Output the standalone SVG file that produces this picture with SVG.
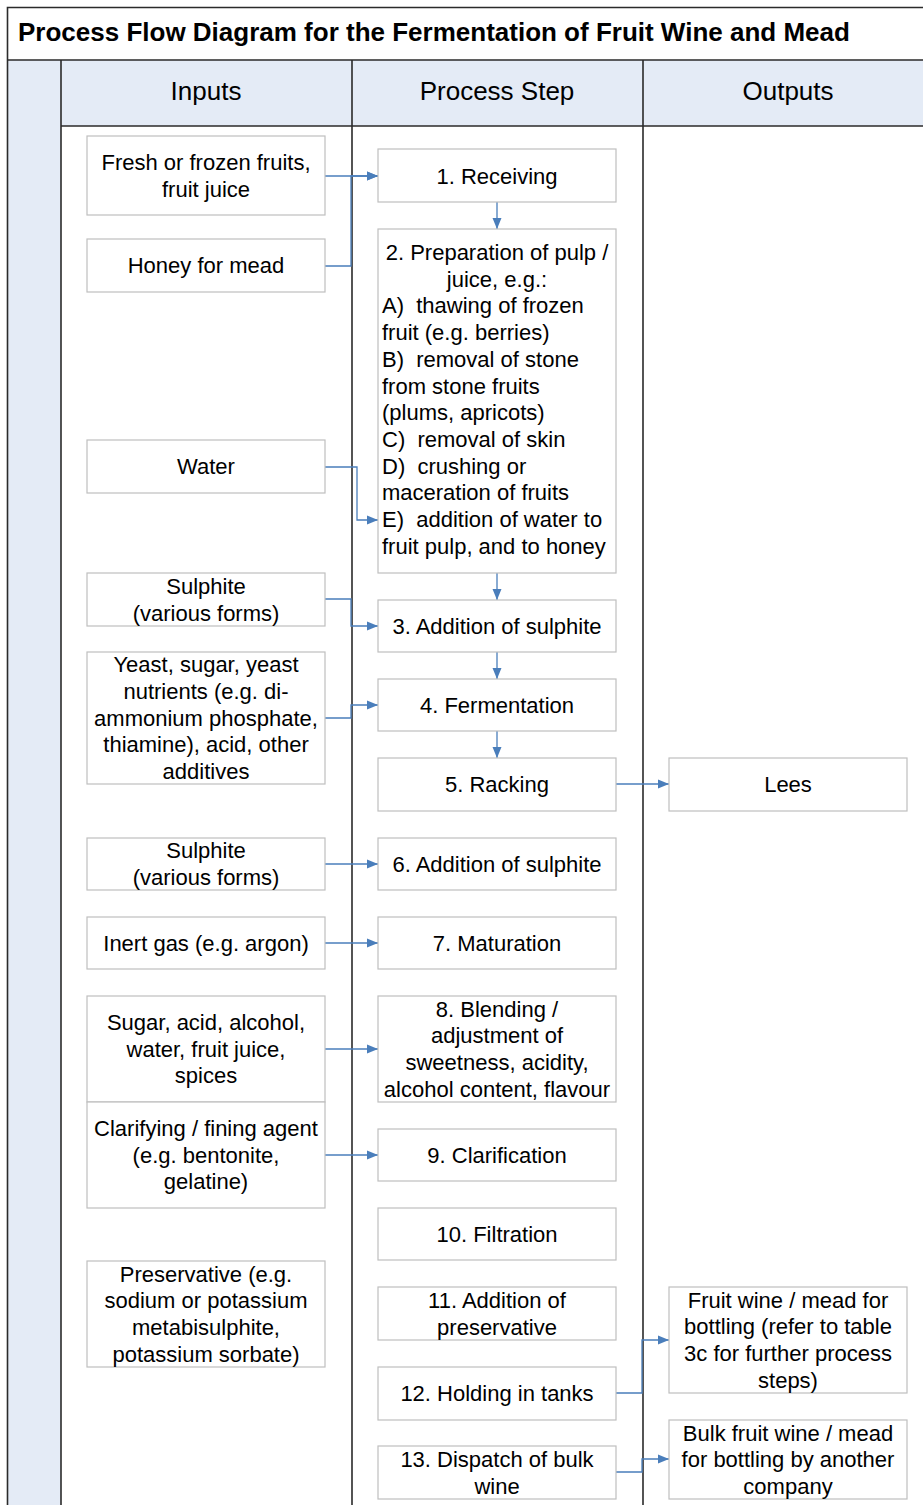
<svg xmlns="http://www.w3.org/2000/svg" width="923" height="1505" viewBox="0 0 923 1505">
<style>
.frame{fill:none;stroke:#2b2b2b;stroke-width:1.6}
.band{fill:#e4ebf6}
.box{fill:#ffffff;stroke:#bfbfbf;stroke-width:1.2}
.t{font-family:"Liberation Sans",Arial,sans-serif;font-size:22px;fill:#000;text-anchor:middle;white-space:pre}
.tl{text-anchor:start}
.h{font-family:"Liberation Sans",Arial,sans-serif;font-size:26px;fill:#000;text-anchor:middle}
.title{font-family:"Liberation Sans",Arial,sans-serif;font-size:26px;font-weight:bold;fill:#000}
.c{fill:none;stroke:#4a7ebb;stroke-width:1.3}
</style>
<defs>
<marker id="arr" markerUnits="userSpaceOnUse" markerWidth="12" markerHeight="10" refX="11" refY="5" orient="auto">
<path d="M0,0.5 L11,5 L0,9.5 Z" fill="#4a7ebb"/>
</marker>
</defs>
<rect x="0" y="0" width="923" height="1505" fill="#ffffff"/>
<g id="frame">
<rect class="band" x="61" y="60" width="862" height="66"/>
<rect class="band" x="7.5" y="60" width="53.5" height="1445"/>
<path class="frame" d="M7.5,1505 V7.5 H923 M7.5,60 H923 M61,126 H923 M61,60 V1505 M352,60 V1505 M643,60 V1505"/>
<text class="title" x="18" y="41">Process Flow Diagram for the Fermentation of Fruit Wine and Mead</text>
<text class="h" x="206" y="100">Inputs</text>
<text class="h" x="497" y="100">Process Step</text>
<text class="h" x="788" y="100">Outputs</text>
</g>
<g id="connectors">
<path class="c" d="M325,176 H378" marker-end="url(#arr)"/>
<path class="c" d="M325,266 H351 V176 H378" marker-end="url(#arr)"/>
<path class="c" d="M497,202 V229" marker-end="url(#arr)"/>
<path class="c" d="M325,467 H357 V520 H378" marker-end="url(#arr)"/>
<path class="c" d="M497,573 V600" marker-end="url(#arr)"/>
<path class="c" d="M325,599 H351 V626 H378" marker-end="url(#arr)"/>
<path class="c" d="M497,652 V679" marker-end="url(#arr)"/>
<path class="c" d="M325,718 H351 V705 H378" marker-end="url(#arr)"/>
<path class="c" d="M497,731 V758" marker-end="url(#arr)"/>
<path class="c" d="M616,784 H669" marker-end="url(#arr)"/>
<path class="c" d="M325,864 H378" marker-end="url(#arr)"/>
<path class="c" d="M325,943 H378" marker-end="url(#arr)"/>
<path class="c" d="M325,1049 H378" marker-end="url(#arr)"/>
<path class="c" d="M325,1155 H378" marker-end="url(#arr)"/>
<path class="c" d="M616,1393 H642 V1340 H669" marker-end="url(#arr)"/>
<path class="c" d="M616,1472 H642 V1459 H669" marker-end="url(#arr)"/>
</g>
<g id="in-fresh"><rect class="box" x="87" y="136" width="238" height="79"/><text class="t" x="206" y="170">Fresh or frozen fruits,</text><text class="t" x="206" y="196.5">fruit juice</text></g>
<g id="in-honey"><rect class="box" x="87" y="239" width="238" height="53"/><text class="t" x="206" y="273">Honey for mead</text></g>
<g id="in-water"><rect class="box" x="87" y="440" width="238" height="53"/><text class="t" x="206" y="474">Water</text></g>
<g id="in-sulphite1"><rect class="box" x="87" y="573" width="238" height="53"/><text class="t" x="206" y="593.5">Sulphite</text><text class="t" x="206" y="620.5">(various forms)</text></g>
<g id="in-yeast"><rect class="box" x="87" y="652" width="238" height="132"/><text class="t" x="206" y="672.3">Yeast, sugar, yeast</text><text class="t" x="206" y="699">nutrients (e.g. di-</text><text class="t" x="206" y="725.7">ammonium phosphate,</text><text class="t" x="206" y="752.4">thiamine), acid, other</text><text class="t" x="206" y="779.1">additives</text></g>
<g id="in-sulphite2"><rect class="box" x="87" y="838" width="238" height="52"/><text class="t" x="206" y="858.3">Sulphite</text><text class="t" x="206" y="885">(various forms)</text></g>
<g id="in-inert"><rect class="box" x="87" y="917" width="238" height="52"/><text class="t" x="206" y="950.7">Inert gas (e.g. argon)</text></g>
<g id="in-sugar"><rect class="box" x="87" y="996" width="238" height="106"/><text class="t" x="206" y="1030">Sugar, acid, alcohol,</text><text class="t" x="206" y="1056.7">water, fruit juice,</text><text class="t" x="206" y="1083.4">spices</text></g>
<g id="in-clarifying"><rect class="box" x="87" y="1102" width="238" height="106"/><text class="t" x="206" y="1136">Clarifying / fining agent</text><text class="t" x="206" y="1162.7">(e.g. bentonite,</text><text class="t" x="206" y="1189.4">gelatine)</text></g>
<g id="in-preservative"><rect class="box" x="87" y="1261" width="238" height="106"/><text class="t" x="206" y="1281.7">Preservative (e.g.</text><text class="t" x="206" y="1308.4">sodium or potassium</text><text class="t" x="206" y="1335.1">metabisulphite,</text><text class="t" x="206" y="1361.8">potassium sorbate)</text></g>
<g id="p1"><rect class="box" x="378" y="149" width="238" height="53"/><text class="t" x="497" y="183.5">1. Receiving</text></g>
<g id="p2"><rect class="box" x="378" y="229" width="238" height="344"/>
<text class="t" x="497" y="260">2. Preparation of pulp /</text>
<text class="t" x="497" y="286.7">juice, e.g.:</text>
<text class="t tl" x="382" y="313.4">A)  thawing of frozen</text>
<text class="t tl" x="382" y="340.1">fruit (e.g. berries)</text>
<text class="t tl" x="382" y="366.8">B)  removal of stone</text>
<text class="t tl" x="382" y="393.5">from stone fruits</text>
<text class="t tl" x="382" y="420.2">(plums, apricots)</text>
<text class="t tl" x="382" y="446.9">C)  removal of skin</text>
<text class="t tl" x="382" y="473.6">D)  crushing or</text>
<text class="t tl" x="382" y="500.3">maceration of fruits</text>
<text class="t tl" x="382" y="527">E)  addition of water to</text>
<text class="t tl" x="382" y="553.7">fruit pulp, and to honey</text>
</g>
<g id="p3"><rect class="box" x="378" y="600" width="238" height="52"/><text class="t" x="497" y="633.7">3. Addition of sulphite</text></g>
<g id="p4"><rect class="box" x="378" y="679" width="238" height="52"/><text class="t" x="497" y="712.7">4. Fermentation</text></g>
<g id="p5"><rect class="box" x="378" y="758" width="238" height="53"/><text class="t" x="497" y="792">5. Racking</text></g>
<g id="p6"><rect class="box" x="378" y="838" width="238" height="52"/><text class="t" x="497" y="871.7">6. Addition of sulphite</text></g>
<g id="p7"><rect class="box" x="378" y="917" width="238" height="52"/><text class="t" x="497" y="950.7">7. Maturation</text></g>
<g id="p8"><rect class="box" x="378" y="996" width="238" height="106"/><text class="t" x="497" y="1016.7">8. Blending /</text><text class="t" x="497" y="1043.4">adjustment of</text><text class="t" x="497" y="1070.1">sweetness, acidity,</text><text class="t" x="497" y="1096.8">alcohol content, flavour</text></g>
<g id="p9"><rect class="box" x="378" y="1129" width="238" height="52"/><text class="t" x="497" y="1162.7">9. Clarification</text></g>
<g id="p10"><rect class="box" x="378" y="1208" width="238" height="52"/><text class="t" x="497" y="1241.7">10. Filtration</text></g>
<g id="p11"><rect class="box" x="378" y="1287" width="238" height="53"/><text class="t" x="497" y="1307.8">11. Addition of</text><text class="t" x="497" y="1334.5">preservative</text></g>
<g id="p12"><rect class="box" x="378" y="1367" width="238" height="53"/><text class="t" x="497" y="1401">12. Holding in tanks</text></g>
<g id="p13"><rect class="box" x="378" y="1446" width="238" height="53"/><text class="t" x="497" y="1466.8">13. Dispatch of bulk</text><text class="t" x="497" y="1493.5">wine</text></g>
<g id="out-lees"><rect class="box" x="669" y="758" width="238" height="53"/><text class="t" x="788" y="792">Lees</text></g>
<g id="out-fruitwine"><rect class="box" x="669" y="1287" width="238" height="106"/><text class="t" x="788" y="1307.7">Fruit wine / mead for</text><text class="t" x="788" y="1334.4">bottling (refer to table</text><text class="t" x="788" y="1361.1">3c for further process</text><text class="t" x="788" y="1387.8">steps)</text></g>
<g id="out-bulk"><rect class="box" x="669" y="1420" width="238" height="79"/><text class="t" x="788" y="1440.5">Bulk fruit wine / mead</text><text class="t" x="788" y="1467.2">for bottling by another</text><text class="t" x="788" y="1493.9">company</text></g>
</svg>
